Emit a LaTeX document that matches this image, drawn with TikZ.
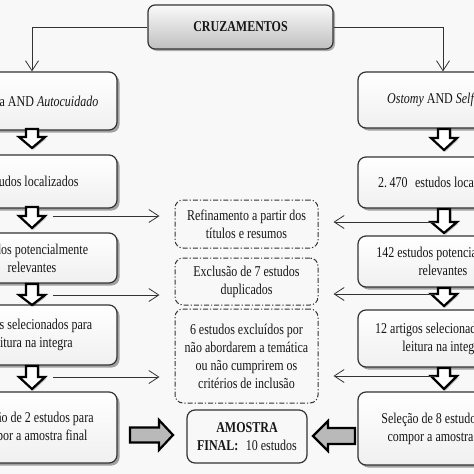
\documentclass[tikz,border=0pt]{standalone}
\usepackage{fontspec}
\setmainfont{Liberation Serif}[FakeStretch=0.8]
\usetikzlibrary{arrows.meta,shadows,calc}
\definecolor{bg}{HTML}{F8F8F8}
\definecolor{ink}{HTML}{161616}
\definecolor{edge}{HTML}{333333}
\newcommand{\thickdown}[5]{%
  \draw[blockarrow] (#2-6,#3) -- (#2-6,#4) -- (#2-13,#4) -- (#2,#5) -- (#2+13,#4) -- (#2+6,#4) -- (#2+6,#3) -- cycle;
  \coordinate (#1) at (#2,#4);}
\begin{document}
\begin{tikzpicture}[x=1pt,y=-1pt,
  txt/.style={font=\fontsize{15}{18}\selectfont, text=ink},
  sbox/.style={txt, draw=edge, line width=1.2pt, rounded corners=8pt,
    top color=white, bottom color=gray!12,
    drop shadow={shadow xshift=2.5pt, shadow yshift=-2.5pt, opacity=0.35, fill=black},
    align=center, minimum width=170pt, inner sep=2pt},
  cruzbox/.style={txt, font=\fontsize{15}{18}\selectfont\bfseries, draw=edge, line width=1.2pt,
    rounded corners=7pt, top color=gray!4, bottom color=gray!50,
    drop shadow={shadow xshift=2pt, shadow yshift=-2pt, opacity=0.3, fill=black}},
  dbox/.style={txt, draw=edge, line width=1pt, dash pattern=on 5pt off 2pt on 1.2pt off 2pt,
    rounded corners=8pt, fill=bg, minimum width=143pt, align=center, inner sep=2pt},
  abox/.style={txt, draw=edge, line width=1.2pt, rounded corners=8pt, fill=bg, align=center},
  thinarrow/.style={draw=edge, line width=0.8pt, -{Straight Barb[length=10pt,width=13pt,line width=0.8pt]}},
  blockarrow/.style={draw=black, line width=2.2pt, fill=white, line join=miter,
    drop shadow={shadow xshift=1.5pt, shadow yshift=-1.5pt, opacity=0.25, fill=black}},
  grayarrow/.style={draw=black, line width=2.2pt, fill=gray!55, line join=miter}]
\useasboundingbox (0,0) rectangle (474,474);
\clip (0,0) rectangle (474,474);
\fill[bg] (0,0) rectangle (474,474);

\node[cruzbox, minimum width=185pt, minimum height=44pt] (cruz) at (240.5,27) {CRUZAMENTOS};

\node[sbox, minimum height=58pt] (l1) at (32,101) {\raisebox{-3pt}{Estomia AND \textit{Autocuidado}}};
\node[sbox, minimum height=53pt] (l2) at (32,181.5) {estudos localizados};
\node[sbox, minimum height=50pt] (l3) at (32,258) {estudos potencialmente\\relevantes};
\node[sbox, minimum height=60pt] (l4) at (32,335) {artigos selecionados para\\leitura na integra};
\node[sbox, minimum height=71pt] (l5) at (32,427.5) {Seleção de 2 estudos para\\compor a amostra final};

\node[sbox, minimum height=56pt] (r1) at (443,100) {\raisebox{-3pt}{\textit{Ostomy} AND \textit{Self-care}}};
\node[sbox, minimum height=51pt] (r2) at (443,182.5) {2.\,470\enspace estudos localizados};
\node[sbox, minimum height=51pt] (r3) at (443,261.5) {142 estudos potencialmente\\relevantes};
\node[sbox, minimum height=57pt] (r4) at (443,338.5) {12 artigos selecionados para\\leitura na integra};
\node[sbox, minimum height=73pt] (r5) at (443,428.5) {Seleção de 8 estudos para\\compor a amostra final};

\node[dbox, minimum height=48pt] (ref) at (246.5,224) {Refinamento a partir dos\\títulos e resumos};
\node[dbox, minimum height=47pt] (exc) at (246.5,281.5) {\raisebox{-3pt}{Exclusão de 7 estudos}\\\raisebox{-3pt}{duplicados}};
\node[dbox, minimum height=94pt] (six) at (246.5,356) {6 estudos excluídos por\\não abordarem a temática\\ou não cumprirem os\\critérios de inclusão};
\node[abox, minimum width=120pt, minimum height=53pt] (amo) at (247,436.5) {\textbf{AMOSTRA}\\\textbf{FINAL:}\enspace 10 estudos};

\draw[thinarrow] (cruz.west) -| (l1.north);
\draw[thinarrow] (cruz.east) -| (r1.north);

\thickdown{la1}{32}{129}{137}{148}
\thickdown{la2}{32}{207}{216}{228}
\thickdown{la3}{32}{284}{295}{305}
\thickdown{la4}{32}{366}{377}{389}
\thickdown{ra1}{444}{129}{138}{150}
\thickdown{ra2}{444}{209}{222}{233}
\thickdown{ra3}{444}{288}{294}{306}
\thickdown{ra4}{444}{368}{376}{389}

\draw[thinarrow] ($(la2)+(21,0)$) -- ($(la2 -| ref.west)+(-15,0)$);
\draw[thinarrow] ($(ra2)+(-8,0)$) -- ($(ra2 -| ref.east)+(15,0)$);
\draw[thinarrow] ($(la3)+(21,0)$) -- ($(la3 -| exc.west)+(-15,0)$);
\draw[thinarrow] ($(ra3)+(-8,0)$) -- ($(ra3 -| exc.east)+(15,0)$);
\draw[thinarrow] ($(la4)+(21,0)$) -- ($(la4 -| six.west)+(-15,0)$);
\draw[thinarrow] ($(ra4)+(-8,0)$) -- ($(ra4 -| six.east)+(15,0)$);

\draw[grayarrow] (130,427.5) -- (159,427.5) -- (159,420) -- (173,435) -- (159,450) -- (159,442.5) -- (130,442.5) -- cycle;
\draw[grayarrow] (355,428) -- (328,428) -- (328,421) -- (313,436) -- (328,451) -- (328,444) -- (355,444) -- cycle;
\end{tikzpicture}
\end{document}
